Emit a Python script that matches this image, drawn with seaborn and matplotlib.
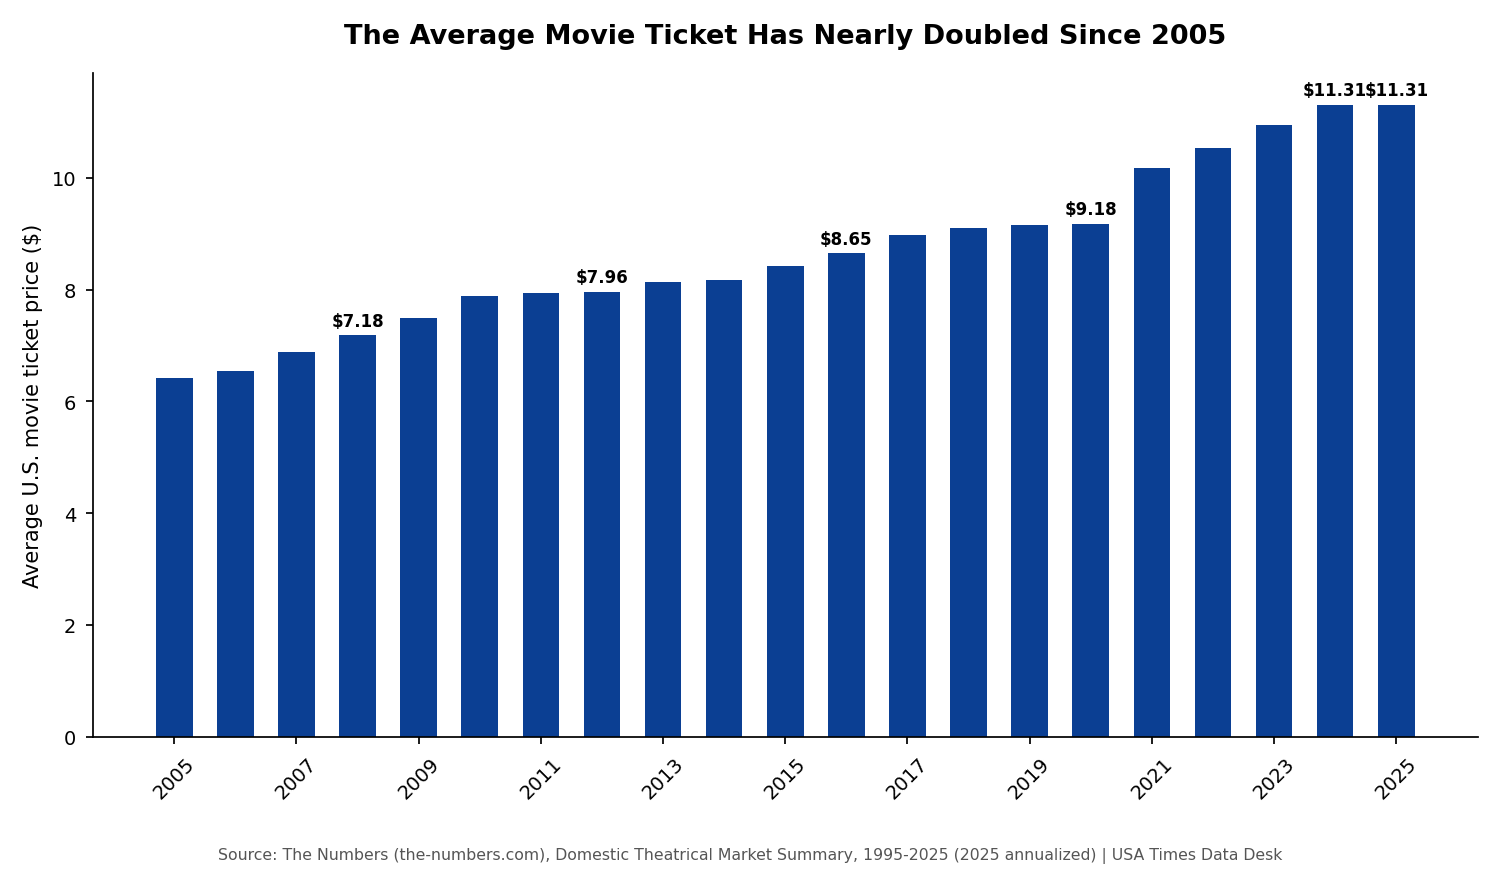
import matplotlib
matplotlib.use("Agg")
import matplotlib.pyplot as plt
import seaborn as sns
import pandas as pd

years = list(range(2005, 2026))
prices = [6.41, 6.55, 6.88, 7.18, 7.50, 7.89, 7.93, 7.96, 8.13, 8.17, 8.43,
          8.65, 8.97, 9.11, 9.16, 9.18, 10.17, 10.53, 10.94, 11.31, 11.31]
labeled_years = [2008, 2012, 2016, 2020, 2024, 2025]
tick_years = list(range(2005, 2026, 2))

title = "The Average Movie Ticket Has Nearly Doubled Since 2005"
ylabel = "Average U.S. movie ticket price ($)"
source = ("Source: The Numbers (the-numbers.com), Domestic Theatrical Market Summary, "
          "1995-2025 (2025 annualized) | USA Times Data Desk")

sns.set_style("ticks", {"axes.edgecolor": "black", "text.color": "black",
                        "axes.labelcolor": "black", "xtick.color": "black",
                        "ytick.color": "black"})
plt.rcParams['font.family'] = ['DejaVu Sans']

df = pd.DataFrame({"year": years, "price": prices})

fig = plt.figure(figsize=(15, 8.7), dpi=100)
ax = fig.add_axes([0.062, 0.152, 0.923, 0.763])
sns.barplot(data=df, x="year", y="price", native_scale=True, width=0.6,
            color="#0b3f93", saturation=1, linewidth=0, ax=ax)
ax.margins(x=0.05, y=0.05)

for y, p in zip(years, prices):
    if y in labeled_years:
        ax.annotate(f"${p:.2f}", (y, p), xytext=(0, 4), textcoords="offset points",
                    ha="center", va="bottom", fontsize=12, fontweight="bold",
                    color="black")

ax.set_xticks(tick_years)
ax.set_xticklabels([str(t) for t in tick_years], rotation=45)
ax.tick_params(axis="both", labelsize=14, length=5, width=1.25, pad=7,
               colors="black")
for s in ax.spines.values():
    s.set_linewidth(1.25)
    s.set_color("black")
ax.set_xlabel("")
ax.set_ylabel(ylabel, fontsize=15, labelpad=6, color="black")
ax.set_title(title, fontsize=19.5, fontweight="bold", pad=21.5, color="black")
sns.despine(ax=ax)
fig.text(0.5, 0.007, source, ha="center", va="bottom", fontsize=11.3, color="#555555")

fig.savefig("out.png", dpi=100)
